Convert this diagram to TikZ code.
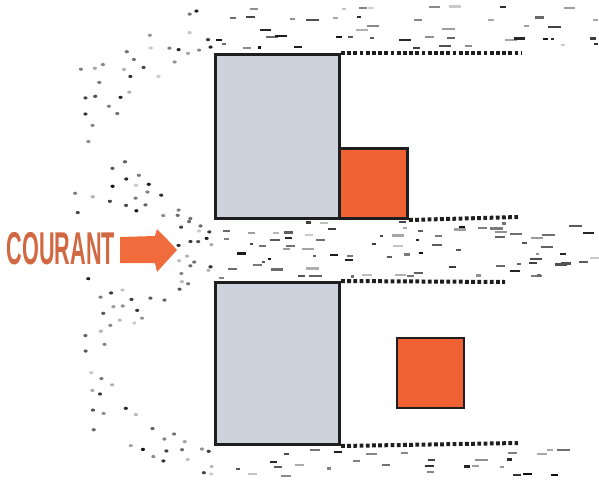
\documentclass[tikz,border=0pt]{standalone}
\usepackage{fontspec}
\setmainfont{Liberation Sans}
\definecolor{blockgray}{RGB}{204,211,221}
\definecolor{orangefill}{RGB}{240,98,52}
\definecolor{courant}{RGB}{210,104,66}
\definecolor{arrowfill}{RGB}{240,108,60}
\definecolor{edge}{RGB}{30,30,30}
\tikzset{
  block/.style={draw=edge, line width=3pt, fill=blockgray, inner sep=0pt, anchor=north west},
  orangebox/.style={draw=edge, line width=3pt, fill=orangefill, inner sep=0pt, anchor=north west},
  wake/.style={line width=4pt, dash pattern=on 3.8pt off 2.4pt, draw=edge},
}
\newcommand\flowline[4]{%
  \pgfmathsetmacro\fxs{#3+15*rnd}%
  \pgfmathtruncatemacro\fn{(#4-\fxs)/12}%
  \foreach \k in {0,...,\fn}{%
    \pgfmathsetmacro\fpx{\fxs+\k*12+8*rnd}%
    \pgfmathsetmacro\fu{min(max((\fpx-80)/134,0),1)}%
    \pgfmathsetmacro\fpy{#1+(#2-#1)*\fu*\fu*(3-2*\fu)+4*rnd-2}%
    \pgfmathsetmacro\fkeep{rnd}%
    \pgfmathtruncatemacro\fsh{20+75*rnd}%
    \pgfmathtruncatemacro\finlab{and(\fpx<178,and(\fpy>222,\fpy<278))}%
    \ifnum\finlab=0
      \ifdim\fpx pt<212pt
        \ifdim\fkeep pt<0.62pt
          \fill[black!\fsh] (\fpx,\fpy) ellipse [x radius=2.1pt, y radius=1.6pt];
        \fi
      \else
        \ifdim\fkeep pt<0.2pt
          \pgfmathsetmacro\flen{3+10*rnd}%
          \draw[line width=2.2pt, black!\fsh] (\fpx,\fpy) -- ++(\flen,0);
        \fi
      \fi
    \fi
  }%
}
\begin{document}
\begin{tikzpicture}[x=1pt,y=-1pt]
\useasboundingbox[fill=white] (0,0) rectangle (599,479);
\pgfmathsetseed{4242}
% flow above the top block
\flowline{70}{8}{72}{590}
\flowline{85}{18}{72}{590}
\flowline{100}{28}{72}{590}
\flowline{115}{38}{72}{590}
\flowline{128}{46}{72}{590}
% flow through the channel
\flowline{140}{224}{72}{585}
\flowline{158}{229}{72}{585}
\flowline{176}{234}{72}{585}
\flowline{194}{239}{72}{585}
\flowline{212}{244}{72}{585}
\flowline{232}{248}{72}{585}
\flowline{255}{254}{72}{585}
\flowline{278}{259}{72}{585}
\flowline{298}{263}{72}{585}
\flowline{316}{267}{72}{585}
\flowline{334}{271}{72}{585}
\flowline{352}{276}{72}{585}
% flow below the bottom block
\flowline{372}{452}{72}{570}
\flowline{390}{460}{72}{570}
\flowline{410}{467}{72}{570}
\flowline{430}{474}{72}{570}

% blocks
\node[block, minimum width=124pt, minimum height=164pt] (g1) at (214,53) {};
\node[orangebox, minimum width=68pt, minimum height=70pt] (o1) at (338,147) {};
\node[block, minimum width=124pt, minimum height=162pt] (g2) at (214,281) {};
\node[orangebox, line width=2.2pt, minimum width=67pt, minimum height=70pt] (o2) at (396,337) {};

% wake boundaries
\coordinate (w1) at (521,53);
\coordinate (w2) at (518,217);
\coordinate (w3) at (505,282);
\coordinate (w4) at (518,443);
\draw[wake] (g1.north east) -- (w1);
\draw[wake] (o1.south east) -- (w2);
\draw[wake] (g2.north east) -- (w3);
\draw[wake] (g2.south east) -- (w4);

% label and arrow
\node[text=courant, font=\bfseries\fontsize{46}{46}\selectfont, xscale=0.47, inner sep=0pt] (label) at (61,249) {COURANT};
\fill[arrowfill] (120,237) -- (155,236) -- (157,229) .. controls (166,238) .. (177,250) .. controls (166,262) .. (157,272) -- (155,263) -- (120,263) -- cycle;
\coordinate (arrowtip) at (177,250);
\end{tikzpicture}
\end{document}
